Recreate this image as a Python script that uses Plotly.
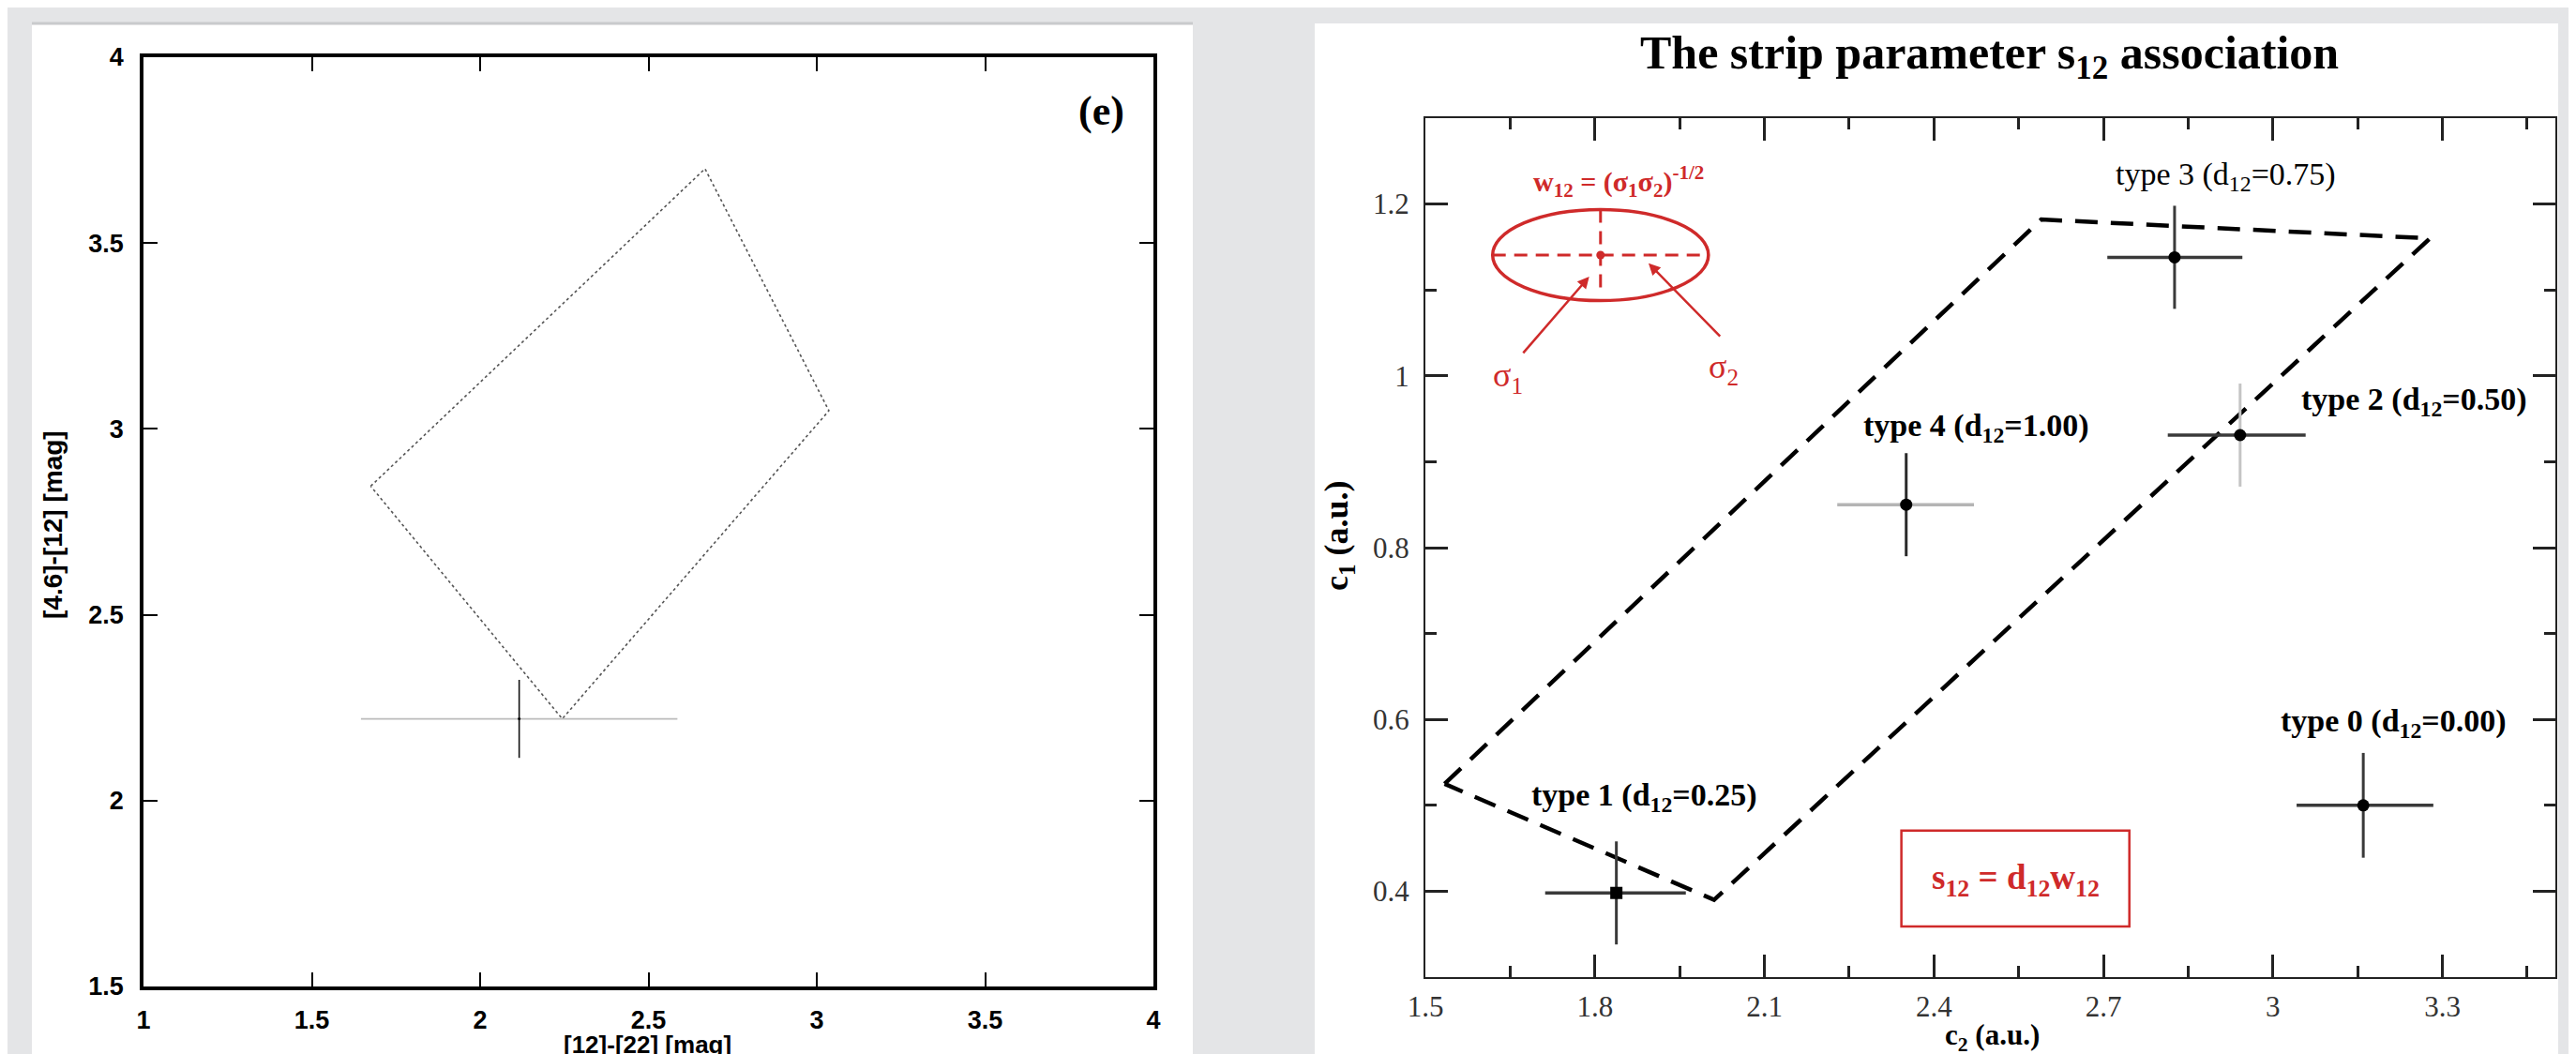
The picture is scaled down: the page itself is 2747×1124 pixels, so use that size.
import plotly.graph_objects as go

W, H = 2747, 1124

# ---------------- left panel data ----------------
left_x_ticks = [1, 1.5, 2, 2.5, 3, 3.5, 4]
left_x_labels = ["1", "1.5", "2", "2.5", "3", "3.5", "4"]
left_y_ticks = [1.5, 2, 2.5, 3, 3.5, 4]
left_y_labels = ["1.5", "2", "2.5", "3", "3.5", "4"]
box_x = [1.675, 2.668, 3.036, 2.244, 1.675]
box_y = [2.846, 3.700, 3.049, 2.220, 2.846]
pt_x = [2.116]
pt_y = [2.220]
pt_ex = [0.47]
pt_ey = [0.105]

# ---------------- right panel data ----------------
right_x_ticks = [1.5, 1.8, 2.1, 2.4, 2.7, 3.0, 3.3]
right_x_labels = ["1.5", "1.8", "2.1", "2.4", "2.7", "3", "3.3"]
right_x_minor = [1.65, 1.95, 2.25, 2.55, 2.85, 3.15, 3.45]
right_y_ticks = [0.4, 0.6, 0.8, 1.0, 1.2]
right_y_labels = ["0.4", "0.6", "0.8", "1", "1.2"]
right_y_minor = [0.5, 0.7, 0.9, 1.1]

strip_x = [1.534, 2.590, 3.278, 2.011, 1.534]
strip_y = [0.525, 1.182, 1.160, 0.390, 0.525]

type_names = ["type 0", "type 1", "type 2", "type 3", "type 4"]
type_d12 = ["0.00", "0.25", "0.50", "0.75", "1.00"]
type_x = [3.160, 1.838, 2.942, 2.826, 2.351]
type_y = [0.500, 0.398, 0.931, 1.138, 0.850]
type_ex_minus = [0.118, 0.126, 0.128, 0.119, 0.122]
type_ex_plus = [0.124, 0.123, 0.116, 0.120, 0.120]
type_ey = [0.061, 0.060, 0.060, 0.060, 0.060]
type_marker = ["circle", "square", "circle", "circle", "circle"]
type_hcolor = ["#3a3a3a", "#3a3a3a", "#3a3a3a", "#3a3a3a", "#b4b4b4"]
type_vcolor = ["#3a3a3a", "#3a3a3a", "#c4c4c4", "#3a3a3a", "#2a2a2a"]
label_x = [3.214, 1.888, 3.250, 2.916, 2.475]
label_y = [0.596, 0.510, 0.970, 1.232, 0.940]
label_bold = [True, True, True, False, True]

# red inset (sigma ellipse)
ell_cx, ell_cy = 1.810, 1.1406
ell_rx, ell_ry = 0.191, 0.053
RED = "#cf2a2a"

fig = go.Figure()

# left panel traces
fig.add_trace(go.Scatter(x=box_x, y=box_y, mode="lines", xaxis="x", yaxis="y",
                         line=dict(color="#555555", width=1.6, dash="dot"),
                         showlegend=False, hoverinfo="skip"))
fig.add_trace(go.Scatter(x=pt_x, y=pt_y, mode="markers", xaxis="x", yaxis="y",
                         marker=dict(color="black", size=3),
                         error_x=dict(type="data", array=pt_ex, color="#bcbcbc", thickness=1.6, width=0),
                         error_y=dict(type="data", array=pt_ey, color="#111111", thickness=1.6, width=0),
                         showlegend=False))

# right panel: dashed strip
fig.add_trace(go.Scatter(x=strip_x, y=strip_y, mode="lines", xaxis="x2", yaxis="y2",
                         line=dict(color="black", width=4.5, dash="24px,14px"),
                         showlegend=False, hoverinfo="skip"))

# right panel: points
for i in range(len(type_names)):
    fig.add_trace(go.Scatter(
        x=[type_x[i]], y=[type_y[i]], mode="markers", xaxis="x2", yaxis="y2",
        marker=dict(color="black", size=13, symbol=type_marker[i]),
        error_x=dict(type="data", symmetric=False, array=[type_ex_plus[i]],
                     arrayminus=[type_ex_minus[i]], color=type_hcolor[i], thickness=3.5, width=0),
        error_y=dict(type="data", array=[type_ey[i]], color=type_vcolor[i], thickness=3, width=0),
        showlegend=False, name=type_names[i]))

# red inset dashed cross + centre dot
fig.add_trace(go.Scatter(x=[ell_cx - ell_rx, ell_cx + ell_rx], y=[ell_cy, ell_cy], mode="lines",
                         xaxis="x2", yaxis="y2", line=dict(color=RED, width=3, dash="14px,9px"),
                         showlegend=False, hoverinfo="skip"))
fig.add_trace(go.Scatter(x=[ell_cx, ell_cx], y=[ell_cy + ell_ry, ell_cy - 0.042], mode="lines",
                         xaxis="x2", yaxis="y2", line=dict(color=RED, width=3, dash="14px,9px"),
                         showlegend=False, hoverinfo="skip"))
fig.add_trace(go.Scatter(x=[ell_cx], y=[ell_cy], mode="markers", xaxis="x2", yaxis="y2",
                         marker=dict(color=RED, size=9), showlegend=False, hoverinfo="skip"))

shapes = [
    # white panels
    dict(type="rect", xref="paper", yref="paper", x0=26 / W, x1=1264 / W, y0=0, y1=1 - 17 / H,
         fillcolor="white", line=dict(width=0), layer="below"),
    dict(type="rect", xref="paper", yref="paper", x0=1394 / W, x1=2720 / W, y0=0, y1=1 - 17 / H,
         fillcolor="white", line=dict(width=0), layer="below"),
    dict(type="line", xref="paper", yref="paper", x0=26 / W, x1=1264 / W, y0=1 - 17 / H, y1=1 - 17 / H,
         line=dict(color="#c9cacc", width=3), layer="below"),
    # ellipse
    dict(type="circle", xref="x2", yref="y2", x0=ell_cx - ell_rx, x1=ell_cx + ell_rx,
         y0=ell_cy - ell_ry, y1=ell_cy + ell_ry, line=dict(color=RED, width=3.5)),
    # red formula box
    dict(type="rect", xref="x2", yref="y2", x0=2.3425, x1=2.746, y0=0.359, y1=0.4706,
         line=dict(color=RED, width=2.5)),
]

SERIF = "Liberation Serif"
SANS = "Liberation Sans"

annotations = [
    # left panel
    dict(x=3.845, y=3.854, xref="x", yref="y", text="(e)", showarrow=False,
         xanchor="center", yanchor="middle",
         font=dict(family=SERIF, size=44, color="black", weight="bold")),
    dict(x=48 / W, y=1 - 552 / H, xref="paper", yref="paper", text="[4.6]-[12] [mag]",
         xanchor="center", yanchor="middle",
         textangle=-90, showarrow=False, font=dict(family=SANS, size=28, color="black", weight="bold")),
    dict(x=682 / W, y=1.5 / H, xref="paper", yref="paper", text="[12]-[22] [mag]",
         xanchor="center", yanchor="bottom",
         showarrow=False, font=dict(family=SANS, size=26, color="black", weight="bold")),
    # right panel title and axis titles
    dict(x=2113 / W, y=1 - 52 / H, xref="paper", yref="paper",
         xanchor="center", yanchor="middle",
         text="The strip parameter s<sub>12</sub> association", showarrow=False,
         font=dict(family=SERIF, size=50, color="black", weight="bold")),
    dict(x=1419 / W, y=1 - 563 / H, xref="paper", yref="paper", text="c<sub>1</sub> (a.u.)",
         xanchor="center", yanchor="middle",
         textangle=-90, showarrow=False, font=dict(family=SERIF, size=36, color="black", weight="bold")),
    dict(x=2116 / W, y=4 / H, xref="paper", yref="paper", text="c<sub>2</sub> (a.u.)",
         xanchor="center", yanchor="bottom",
         showarrow=False, font=dict(family=SERIF, size=31, color="black", weight="bold")),
    # red inset text
    dict(x=1.842, y=1.226, xref="x2", yref="y2",
         text="w<sub>12</sub> = (σ<sub>1</sub>σ<sub>2</sub>)<sup>-1/2</sup>", showarrow=False,
         font=dict(family=SERIF, size=30, color=RED, weight="bold")),
    dict(x=1.646, y=0.998, xref="x2", yref="y2", text="σ<sub>1</sub>", showarrow=False,
         font=dict(family=SERIF, size=36, color=RED)),
    dict(x=2.028, y=1.008, xref="x2", yref="y2", text="σ<sub>2</sub>", showarrow=False,
         font=dict(family=SERIF, size=36, color=RED)),
    dict(x=1.790, y=1.1155, ax=1.671, ay=1.025, xref="x2", yref="y2", axref="x2", ayref="y2",
         text="", showarrow=True, arrowhead=2, arrowsize=1, arrowwidth=2.5, arrowcolor=RED),
    dict(x=1.895, y=1.131, ax=2.024, ay=1.0445, xref="x2", yref="y2", axref="x2", ayref="y2",
         text="", showarrow=True, arrowhead=2, arrowsize=1, arrowwidth=2.5, arrowcolor=RED),
    dict(x=2.544, y=0.413, xref="x2", yref="y2",
         text="s<sub>12</sub> = d<sub>12</sub>w<sub>12</sub>", showarrow=False,
         font=dict(family=SERIF, size=37, color=RED, weight="bold")),
]

for i in range(len(type_names)):
    annotations.append(dict(
        x=label_x[i], y=label_y[i], xref="x2", yref="y2",
        text=f"{type_names[i]} (d<sub>12</sub>={type_d12[i]})", showarrow=False,
        font=dict(family=SERIF, size=34, color="black", weight="bold" if label_bold[i] else "normal")))

left_axis_common = dict(showgrid=False, zeroline=False, showline=True, linewidth=3.5, linecolor="black",
                        mirror="ticks", ticks="inside", ticklen=15, tickwidth=2, tickcolor="black",
                        automargin=False,
                        tickfont=dict(family=SANS, size=27, color="black", weight="bold"))
right_axis_common = dict(showgrid=False, zeroline=False, showline=True, linewidth=2.2, linecolor="#222222",
                         mirror="ticks", ticks="inside", ticklen=24, tickwidth=2.5, tickcolor="#222222",
                         automargin=False,
                         tickfont=dict(family=SERIF, size=31, color="#333333"))

fig.update_layout(
    width=W, height=H,
    margin=dict(l=0, r=0, t=0, b=0),
    paper_bgcolor="#e4e5e7",
    plot_bgcolor="white",
    showlegend=False,
    xaxis=dict(domain=[145 / W, 1222 / W], range=[1, 4], anchor="y", ticklabelstandoff=9,
               tickmode="array", tickvals=left_x_ticks, ticktext=left_x_labels, **left_axis_common),
    yaxis=dict(domain=[1 - 1044 / H, 1 - 53 / H], range=[1.5, 4], anchor="x", ticklabelstandoff=12,
               tickmode="array", tickvals=left_y_ticks, ticktext=left_y_labels, **left_axis_common),
    xaxis2=dict(domain=[1512 / W, 2717 / W], range=[1.5, 3.5], anchor="y2", ticklabelstandoff=3,
                tickmode="array", tickvals=right_x_ticks, ticktext=right_x_labels,
                minor=dict(tickmode="array", tickvals=right_x_minor, ticks="inside", ticklen=12,
                           tickwidth=2.5, tickcolor="#222222"),
                **right_axis_common),
    yaxis2=dict(domain=[1 - 1034 / H, 1 - 118 / H], range=[0.3, 1.3], anchor="x2", ticklabelstandoff=9,
                tickmode="array", tickvals=right_y_ticks, ticktext=right_y_labels,
                minor=dict(tickmode="array", tickvals=right_y_minor, ticks="inside", ticklen=12,
                           tickwidth=2.5, tickcolor="#222222"),
                **right_axis_common),
    shapes=shapes,
    annotations=annotations,
)

fig.write_html("out.html")
